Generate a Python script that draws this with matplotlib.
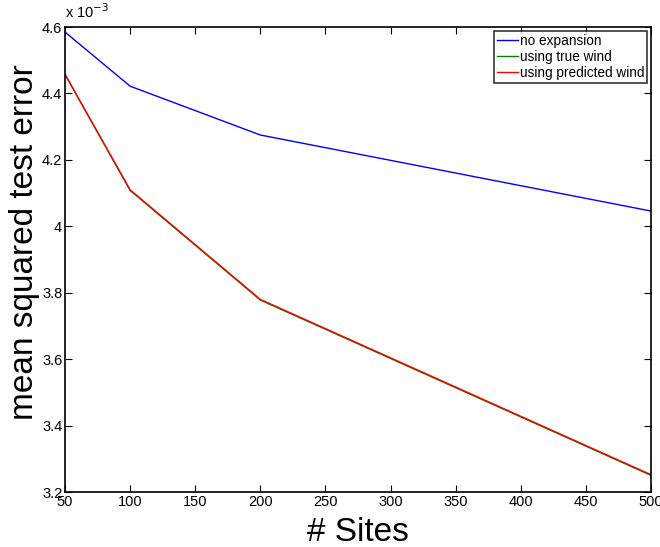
import numpy as np
import matplotlib
matplotlib.use("Agg")
import matplotlib.pyplot as plt
from matplotlib.ticker import FormatStrFormatter

plt.rcParams['font.family'] = ['Liberation Sans', 'DejaVu Sans']

# data (mean squared test error, in units of 1e-3)
sites = [50, 100, 200, 500]
no_expansion = [4.585, 4.422, 4.275, 4.046]
true_wind = [4.457, 4.108, 3.778, 3.250]
predicted_wind = [4.458, 4.110, 3.780, 3.252]

fig = plt.figure(figsize=(6.6, 5.47), dpi=100)
ax = fig.add_axes([0.0985, 0.1005, 0.888, 0.850])

ax.plot(sites, no_expansion, color=(0, 0, 1), lw=1.0, label='no expansion')
ax.plot(sites, true_wind, color=(0, 0.5, 0), lw=1.0, label='using true wind')
ax.plot(sites, predicted_wind, color=(1, 0, 0), lw=1.0, label='using predicted wind')

ax.set_xlim(50, 500)
ax.set_ylim(3.2, 4.6)
ax.set_xticks(np.arange(50, 501, 50))
ax.set_yticks(np.arange(3.2, 4.61, 0.2))
ax.yaxis.set_major_formatter(FormatStrFormatter('%g'))
ax.tick_params(direction='in', top=True, right=True, length=5, width=0.8,
               labelsize=10.5, pad=2)
for s in ax.spines.values():
    s.set_linewidth(1.2)

ax.text(0.0, 1.012, r'x 10$^{-3}$', transform=ax.transAxes, fontsize=10.5,
        ha='left', va='bottom')

ax.set_xlabel('# Sites', fontsize=24, labelpad=6)
ax.set_ylabel('mean squared test error', fontsize=24)
ax.yaxis.set_label_coords(-0.042, 0.537)

leg = ax.legend(loc='upper right', fontsize=9.8, frameon=True, fancybox=False,
                handlelength=1.6, handletextpad=0.1, borderpad=0.2,
                labelspacing=0.15, borderaxespad=0.3)
leg.get_frame().set_edgecolor('black')
leg.get_frame().set_linewidth(1.2)

fig.savefig('out.png', dpi=100)
